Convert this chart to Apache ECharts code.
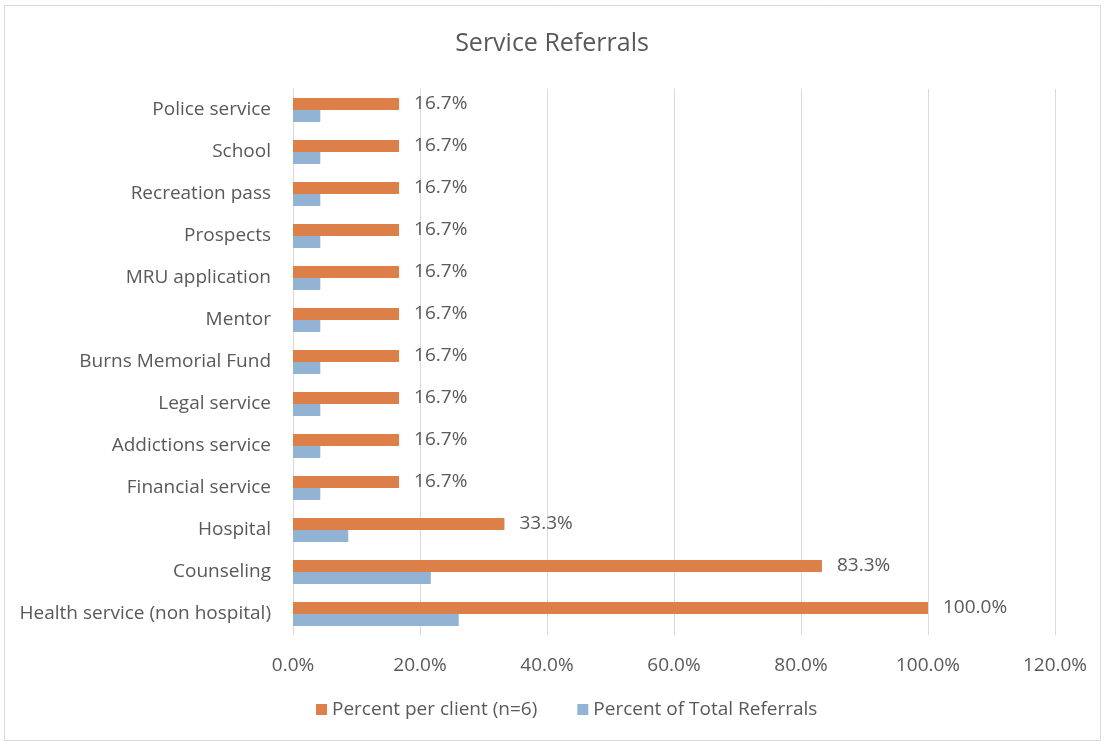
<!DOCTYPE html>
<html>
<head>
<meta charset="utf-8">
<style>
  html, body { margin: 0; padding: 0; background: #fff; }
  #chart { width: 1104px; height: 744px; }
</style>
<script src="https://cdn.jsdelivr.net/npm/echarts@6/dist/echarts.min.js"></script>
</head>
<body>
<div id="chart"></div>
<script>
// Referral categories, listed top to bottom
const categories = [
  'Police service', 'School', 'Recreation pass', 'Prospects', 'MRU application',
  'Mentor', 'Burns Memorial Fund', 'Legal service', 'Addictions service',
  'Financial service', 'Hospital', 'Counseling', 'Health service (non hospital)'
];
// Share of the 6 clients referred to each service (%)
const perClient = [16.7, 16.7, 16.7, 16.7, 16.7, 16.7, 16.7, 16.7, 16.7, 16.7, 33.3, 83.3, 100.0];
// Share of all 23 referrals going to each service (%)
const ofTotal = [4.3, 4.3, 4.3, 4.3, 4.3, 4.3, 4.3, 4.3, 4.3, 4.3, 8.7, 21.7, 26.1];
const seriesNames = ['Percent per client (n=6)', 'Percent of Total Referrals'];
const xTicks = { min: 0, max: 120, interval: 20 };

const font = '"Open Sans", "Noto Sans", sans-serif';
const textColor = '#595959';

const chart = echarts.init(document.getElementById('chart'), null, { renderer: 'canvas' });
chart.setOption({
  animation: false,
  backgroundColor: '#ffffff',
  textStyle: { fontFamily: font },
  graphic: [{
    type: 'rect',
    shape: { x: 4.5, y: 5.5, width: 1096, height: 735 },
    style: { fill: 'none', stroke: '#d9d9d9', lineWidth: 1 },
    silent: true
  }],
  title: {
    text: 'Service Referrals',
    left: 'center',
    top: 26,
    textStyle: { fontFamily: font, fontWeight: 'normal', fontSize: 25, color: textColor }
  },
  legend: {
    bottom: 20,
    left: 311,
    itemWidth: 11,
    itemHeight: 11,
    itemGap: 40,
    icon: 'rect',
    textStyle: { fontFamily: font, fontSize: 19, color: textColor },
    data: seriesNames
  },
  grid: { left: 293, right: 49, top: 89, bottom: 109, containLabel: false },
  xAxis: {
    type: 'value',
    min: xTicks.min,
    max: xTicks.max,
    interval: xTicks.interval,
    axisLine: { show: false },
    axisTick: { show: false },
    axisLabel: {
      color: textColor, fontSize: 19, fontFamily: font, margin: 21,
      formatter: v => v.toFixed(1) + '%'
    },
    splitLine: { lineStyle: { color: '#d9d9d9', width: 1 } }
  },
  yAxis: {
    type: 'category',
    inverse: true,
    data: categories,
    axisLine: { show: true, lineStyle: { color: '#d9d9d9' } },
    axisTick: { show: false },
    axisLabel: { color: textColor, fontSize: 19, fontFamily: font, margin: 22 }
  },
  series: [
    {
      name: seriesNames[0],
      type: 'bar',
      data: perClient,
      barWidth: 12,
      barGap: '0%',
      itemStyle: { color: '#dd7f48' },
      label: {
        show: true,
        position: 'right',
        distance: 15,
        color: textColor,
        fontSize: 19,
        fontFamily: font,
        formatter: p => p.value.toFixed(1) + '%'
      }
    },
    {
      name: seriesNames[1],
      type: 'bar',
      data: ofTotal,
      barWidth: 12,
      barGap: '0%',
      itemStyle: { color: '#92b3d3' }
    }
  ]
});
</script>
</body>
</html>
